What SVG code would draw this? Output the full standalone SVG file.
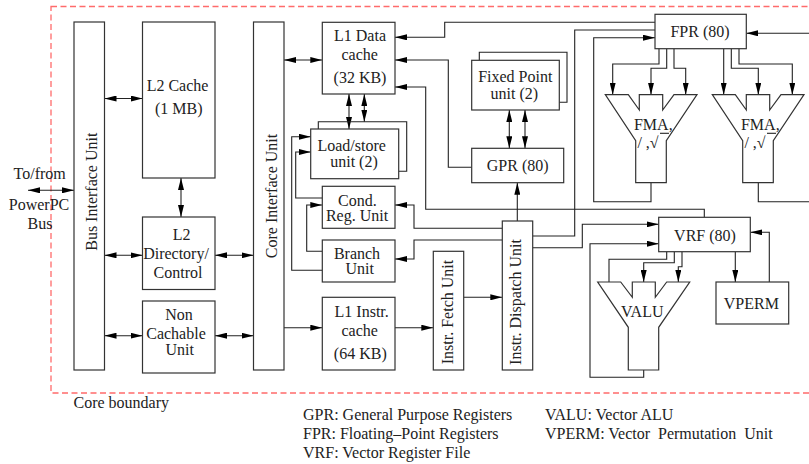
<svg xmlns="http://www.w3.org/2000/svg" width="809" height="464" viewBox="0 0 809 464">
<style>
rect,polygon,polyline,path{fill:none}
.n{fill:#fff;stroke:#333;stroke-width:1.2}
.c{fill:none;stroke:#222;stroke-width:1.1}
.a{marker-end:url(#h)}
.b{marker-start:url(#h);marker-end:url(#h)}
text{font-family:"Liberation Serif","Times New Roman",serif;font-size:16px;fill:#222;text-anchor:middle}
.s{text-anchor:start;white-space:pre}
</style>
<defs>
<marker id="h" markerUnits="userSpaceOnUse" markerWidth="12" markerHeight="6" refX="12" refY="3" orient="auto-start-reverse"><path d="M0 0L12 3L0 6Z" style="fill:#000;stroke:none"/></marker>
</defs>
<rect id="core-boundary" x="51" y="6.5" width="770" height="386.5" style="stroke:#ff6b6b;stroke-width:1.3;stroke-dasharray:6 3.5"/>
<g id="connectors">
<path class="c b" d="M28 190.3H74"/>
<path class="c b" d="M104.5 98.5H142.5"/>
<path class="c b" d="M181 178V217"/>
<path class="c b" d="M104.5 255.3H142.5"/>
<path class="c b" d="M215 255.3H253.5"/>
<path class="c b" d="M104.5 335.7H142.5"/>
<path class="c b" d="M215 335.7H253.5"/>
<path class="c b" d="M284 60H322.3"/>
<path class="c a" d="M284 327.7H322.3"/>
<path class="c a" d="M395 327.7H433.3"/>
<path class="c a" d="M463.7 297.3H502.3"/>
<path class="c b" d="M349 94V129"/>
<path class="c b" d="M364.3 94V121.7"/>
<path class="c b" d="M509.3 110V148.3"/>
<path class="c b" d="M525 110V148.3"/>
<path class="c a" d="M471.7 167.3H448.3V60H395"/>
<path class="c a" d="M655 22.3H444.7V37.3H395"/>
<path class="c a" d="M704.3 217.3V209.3H425.7V87H395"/>
<path class="c a" d="M517.3 221V182.7"/>
<path class="c a" d="M502.3 228.3H414V205H395"/>
<path class="c a" d="M502.3 240H414V259H395"/>
<path class="c a" d="M322.3 270.3H291.7V136.7H310.7"/>
<path class="c a" d="M322.3 198H295.7V152H310.7"/>
<path class="c a" d="M322.3 251.3H306.7V205H322.3"/>
<path class="c" d="M532.7 236H574.7V30H655"/>
<path class="c a" d="M532.7 247.7H582.3V224.3H658.7"/>
<path class="c a" d="M643.7 370V377.3H590V243.7H658.7"/>
<path class="c a" d="M651 182.7V201.7H593.7V37.7H655"/>
<path class="c" d="M758.3 182.7V201.7H809"/>
<path class="c a" d="M809 33.3H746.3"/>
<path class="c a" d="M659 48.7V64H612.7V94.7"/>
<path class="c a" d="M666.7 48.7V68.3H651V94.7"/>
<path class="c a" d="M674 48.7V68.3H685.7V94.7"/>
<path class="c a" d="M723.7 48.7V94.7"/>
<path class="c a" d="M731.3 48.7V68.3H758.3V94.7"/>
<path class="c a" d="M739 48.7V64H792.3V94.7"/>
<path class="c" d="M666.7 251.7V259.3H609V282"/>
<path class="c a" d="M674.3 251.7V262.7H643.7V282"/>
<path class="c a" d="M682 251.7V266.7H678.3V282"/>
<path class="c a" d="M735.3 251.7V282"/>
<path class="c a" d="M769.3 282V232.3H750.3"/>
</g>
<g id="bus-interface-unit"><rect class="n" x="74" y="22" width="30.5" height="348"/><text transform="translate(96.7 191.7) rotate(-90)">Bus Interface Unit</text></g>
<g id="l2-cache"><rect class="n" x="142.5" y="22" width="72.5" height="156"/><text x="177.5" y="91">L2 Cache</text><text x="178.7" y="114">(1 MB)</text></g>
<g id="l2-directory"><rect class="n" x="142.5" y="217" width="72.5" height="72.5"/><text x="181.7" y="240">L2</text><text x="176" y="259">Directory/</text><text x="178" y="278">Control</text></g>
<g id="non-cachable-unit"><rect class="n" x="142.5" y="301" width="72.5" height="72"/><text x="179" y="320">Non</text><text x="176" y="339">Cachable</text><text x="179.7" y="354.7">Unit</text></g>
<g id="core-interface-unit"><rect class="n" x="253.5" y="22" width="30.5" height="348"/><text transform="translate(276.7 196) rotate(-90)">Core Interface Unit</text></g>
<g id="l1-data-cache"><rect class="n" x="322.3" y="22.3" width="72.7" height="71.7"/><text x="360" y="41">L1 Data</text><text x="359.7" y="60">cache</text><text x="360" y="83">(32 KB)</text></g>
<g id="load-store-unit"><polyline class="c" points="318.3,129 318.3,121.7 406.7,121.7 406.7,171.3 398.7,171.3"/><rect class="n" x="310.7" y="129" width="88" height="49.7"/><text x="351.7" y="151">Load/store</text><text x="354" y="167">unit (2)</text></g>
<g id="cond-reg-unit"><rect class="n" x="322.3" y="186.3" width="72.7" height="42"/><text x="357.3" y="205.7">Cond.</text><text x="357" y="220.7">Reg. Unit</text></g>
<g id="branch-unit"><rect class="n" x="322.3" y="240" width="72.7" height="42"/><text x="357" y="258.7">Branch</text><text x="359.7" y="273.7">Unit</text></g>
<g id="l1-instr-cache"><rect class="n" x="322.3" y="297.3" width="72.7" height="72.7"/><text x="361.7" y="316.7">L1 Instr.</text><text x="359.7" y="335.7">cache</text><text x="360.3" y="359">(64 KB)</text></g>
<g id="instr-fetch-unit"><rect class="n" x="433.3" y="251.3" width="30.4" height="118.7"/><text transform="translate(452.7 312) rotate(-90)">Instr. Fetch Unit</text></g>
<g id="instr-dispatch-unit"><rect class="n" x="502.3" y="221" width="30.4" height="149"/><text transform="translate(521.3 302) rotate(-90)">Instr. Dispatch Unit</text></g>
<g id="fixed-point-unit"><polyline class="c" points="479.3,60.3 479.3,52.3 567,52.3 567,102.3 559.3,102.3"/><rect class="n" x="471.7" y="60.3" width="87.6" height="49.7"/><text x="515.3" y="81.7">Fixed Point</text><text x="514.3" y="99">unit (2)</text></g>
<g id="gpr"><rect class="n" x="471.7" y="148.3" width="92" height="34.4"/><text x="517.7" y="170.7">GPR (80)</text></g>
<g id="fpr"><rect class="n" x="655" y="14.3" width="91.3" height="34.4"/><text x="700" y="36.7">FPR (80)</text></g>
<g id="fma-1"><polygon class="n" style="fill:none" points="605.3,94.7 628.3,94.7 639.3,110 639.3,94.7 662.7,94.7 662.7,110 674,94.7 697,94.7 666.3,140.7 666.3,182.7 635.7,182.7 635.7,140.7"/><text x="653.3" y="130">FMA,</text><text x="648" y="148">/ ,√</text><polyline class="c" points="660,133.3 669,133.3"/></g>
<g id="fma-2"><polygon class="n" style="fill:none" points="712.3,94.7 735.3,94.7 746.3,110 746.3,94.7 769.7,94.7 769.7,110 781,94.7 804,94.7 773.3,140.7 773.3,182.7 742.7,182.7 742.7,140.7"/><text x="760.3" y="130">FMA,</text><text x="755" y="148">/ ,√</text><polyline class="c" points="767,133.3 776,133.3"/></g>
<g id="vrf"><rect class="n" x="658.7" y="217.3" width="91.6" height="34.4"/><text x="705" y="240.7">VRF (80)</text></g>
<g id="valu"><polygon class="n" style="fill:none" points="597.7,282 620.7,282 632.3,297.3 632.3,282 655.3,282 655.3,297.3 666.7,282 689.7,282 658.7,327.3 658.7,370 628.3,370 628.3,327.3"/><text x="642.3" y="317">VALU</text></g>
<g id="vperm"><rect class="n" x="716" y="282" width="72.7" height="42"/><text x="751.3" y="308.7">VPERM</text></g>
<g id="labels">
<text x="39.7" y="179">To/from</text><text x="39" y="210">PowerPC</text><text x="40" y="228.7">Bus</text>
<text class="s" x="73.5" y="408">Core boundary</text>
<text class="s" x="303" y="420">GPR: General Purpose Registers</text>
<text class="s" x="303" y="439">FPR: Floating–Point Registers</text>
<text class="s" x="303" y="457.5">VRF: Vector Register File</text>
<text class="s" x="545" y="420">VALU: Vector ALU</text>
<text class="s" x="545" y="439">VPERM: Vector  Permutation  Unit</text>
</g>
</svg>
